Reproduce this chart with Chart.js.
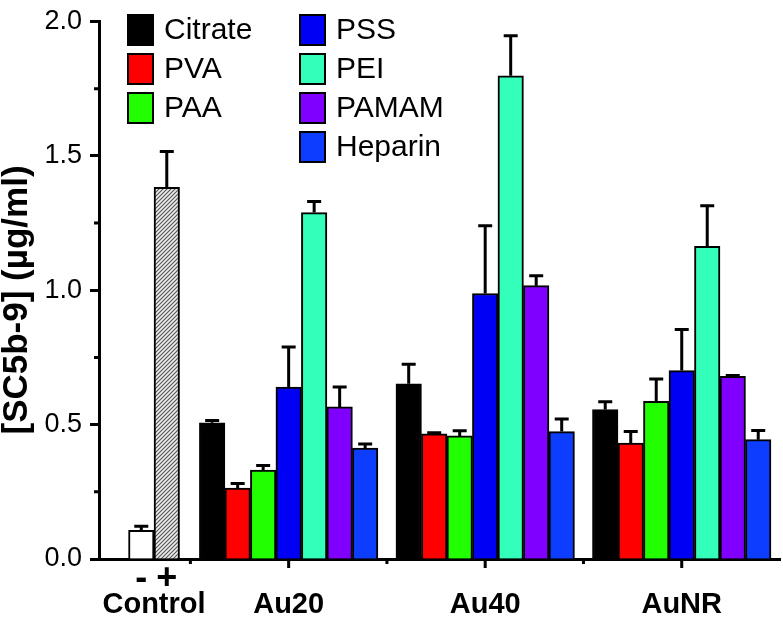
<!DOCTYPE html>
<html>
<head>
<meta charset="utf-8">
<script src="https://cdn.jsdelivr.net/npm/chart.js@4.4.1/dist/chart.umd.min.js"></script>
<style>
  html, body { margin: 0; padding: 0; background: #fff; }
</style>
</head>
<body>
<canvas id="myChart" width="783" height="626"></canvas>
<script>
// groups on the x axis and where they sit on the (linear) x scale
const groups = ['Control', 'Au20', 'Au40', 'AuNR'];
const groupPos = [1.315, 2, 3, 4];
const dividers = [1.5, 2.5, 3.5];
const yTicks = [0, 0.5, 1.0, 1.5, 2.0];
const yMinor = [0.25, 0.75, 1.25, 1.75];

// control bars (- / +)
const controlSigns = ['-', '+'];
const controlVals = [0.107, 1.383];
const controlSd = [0.015, 0.133];

// coatings, values for Au20, Au40, AuNR
const coatings = ['Citrate', 'PVA', 'PAA', 'PSS', 'PEI', 'PAMAM', 'Heparin'];
const coatingColors = ['#000000', '#ff0000', '#22ff00', '#0000f5', '#33ffbb', '#8000ff', '#0d3dff'];

const citrate = [0.507, 0.652, 0.556];
const citrateSd = [0.008, 0.073, 0.029];
const pva = [0.264, 0.466, 0.431];
const pvaSd = [0.017, 0.004, 0.043];
const paa = [0.331, 0.458, 0.587];
const paaSd = [0.017, 0.019, 0.083];
const pss = [0.640, 0.988, 0.701];
const pssSd = [0.149, 0.252, 0.153];
const pei = [1.289, 1.798, 1.163];
const peiSd = [0.041, 0.149, 0.151];
const pamam = [0.566, 1.017, 0.680];
const pamamSd = [0.074, 0.037, 0.003];
const heparin = [0.413, 0.474, 0.444];
const heparinSd = [0.015, 0.047, 0.034];

const coatingMeans = [citrate, pva, paa, pss, pei, pamam, heparin];
const coatingSds = [citrateSd, pvaSd, paaSd, pssSd, peiSd, pamamSd, heparinSd];

const font = 'Liberation Sans, Arial, sans-serif';

// hatched fill for the positive control
function hatch() {
  const s = 4;
  const c = document.createElement('canvas');
  c.width = s; c.height = s;
  const g = c.getContext('2d');
  g.fillStyle = '#ececec';
  g.fillRect(0, 0, s, s);
  g.strokeStyle = '#555555';
  g.lineWidth = 1.1;
  g.beginPath();
  g.moveTo(0, s); g.lineTo(s, 0);
  g.moveTo(-1, 1); g.lineTo(1, -1);
  g.moveTo(s - 1, s + 1); g.lineTo(s + 1, s - 1);
  g.stroke();
  return g.createPattern(c, 'repeat');
}

const datasets = [];
controlVals.forEach((v, k) => {
  datasets.push({
    label: 'Control ' + controlSigns[k],
    isControl: true,
    sign: controlSigns[k],
    data: groupPos.map((x, i) => ({ x: x, y: i === 0 ? v : null })),
    sd: groupPos.map((x, i) => i === 0 ? controlSd[k] : null),
    backgroundColor: k === 0 ? '#ffffff' : hatch(),
  });
});
coatings.forEach((name, k) => {
  datasets.push({
    label: name,
    data: groupPos.map((x, i) => ({ x: x, y: i === 0 ? null : coatingMeans[k][i - 1] })),
    sd: groupPos.map((x, i) => i === 0 ? null : coatingSds[k][i - 1]),
    backgroundColor: coatingColors[k],
  });
});

const errorBars = {
  id: 'errorBars',
  afterDatasetsDraw(chart) {
    const ctx = chart.ctx;
    const y = chart.scales.y;
    ctx.save();
    ctx.strokeStyle = '#000';
    ctx.lineWidth = 3;
    chart.data.datasets.forEach((ds, di) => {
      const meta = chart.getDatasetMeta(di);
      meta.data.forEach((bar, i) => {
        const v = ds.data[i].y, e = ds.sd[i];
        if (v == null || e == null) return;
        const top = y.getPixelForValue(v + e);
        ctx.beginPath();
        ctx.moveTo(bar.x, bar.y);
        ctx.lineTo(bar.x, top);
        ctx.moveTo(bar.x - 7, top);
        ctx.lineTo(bar.x + 7, top);
        ctx.stroke();
      });
    });
    ctx.restore();
  }
};

const axisExtras = {
  id: 'axisExtras',
  afterDraw(chart) {
    const ctx = chart.ctx;
    const { left, bottom } = chart.chartArea;
    const x = chart.scales.x, y = chart.scales.y;
    ctx.save();
    ctx.strokeStyle = '#000';
    ctx.lineWidth = 3;
    ctx.beginPath();
    yMinor.forEach(v => {
      const py = y.getPixelForValue(v);
      ctx.moveTo(left - 5, py);
      ctx.lineTo(left, py);
    });
    groupPos.slice(1).forEach(v => {
      const px = x.getPixelForValue(v);
      ctx.moveTo(px, bottom);
      ctx.lineTo(px, bottom + 9);
    });
    dividers.forEach(v => {
      const px = x.getPixelForValue(v);
      ctx.moveTo(px, bottom);
      ctx.lineTo(px, bottom + 5);
    });
    ctx.stroke();

    // - and + under the control bars
    ctx.fillStyle = '#000';
    ctx.font = 'bold 36px ' + font;
    ctx.textAlign = 'center';
    ctx.textBaseline = 'middle';
    chart.data.datasets.forEach((ds, di) => {
      if (!ds.isControl) return;
      const bar = chart.getDatasetMeta(di).data[0];
      ctx.fillText(ds.sign, bar.x, bottom + 20);
    });
    ctx.restore();
  }
};

const legendBox = {
  id: 'legendBox',
  afterDraw(chart) {
    const ctx = chart.ctx;
    const items = chart.data.datasets.filter(ds => !ds.isControl);
    ctx.save();
    ctx.font = '30px ' + font;
    ctx.textBaseline = 'middle';
    ctx.textAlign = 'left';
    items.forEach((ds, i) => {
      const col = i < 3 ? 0 : 1;
      const row = col ? i - 3 : i;
      const bx = col ? 300 : 128;
      const by = 15 + row * 39;
      ctx.fillStyle = ds.backgroundColor;
      ctx.fillRect(bx, by, 25, 30);
      ctx.lineWidth = 2;
      ctx.strokeStyle = '#000';
      ctx.strokeRect(bx, by, 25, 30);
      ctx.fillStyle = '#000';
      ctx.fillText(ds.label, bx + 36, by + 16);
    });
    ctx.restore();
  }
};

const ctx = document.getElementById('myChart').getContext('2d');
const myChart = new Chart(ctx, {
  type: 'bar',
  data: { datasets: datasets },
  options: {
    responsive: false,
    animation: false,
    devicePixelRatio: 1,
    layout: { padding: { top: 16, right: 3, left: 0, bottom: 0 } },
    datasets: {
      bar: {
        skipNull: true,
        barThickness: 25.5,
        borderColor: '#000',
        borderWidth: 2,
      }
    },
    plugins: {
      legend: { display: false },
      tooltip: { enabled: false },
    },
    scales: {
      x: {
        type: 'linear',
        offset: false,
        min: 1.035,
        max: 4.5,
        afterFit: (s) => { s.height = 67; },
        afterBuildTicks: (s) => { s.ticks = groupPos.map(v => ({ value: v })); },
        grid: { display: true, drawOnChartArea: false, drawTicks: false },
        border: { display: true, color: '#000', width: 3 },
        ticks: {
          padding: 31,
          color: '#000',
          font: { family: font, size: 29, weight: 'bold', lineHeight: 1 },
          maxRotation: 0,
          autoSkip: false,
          callback: (v) => {
            const i = groupPos.indexOf(v);
            return i >= 0 ? groups[i] : '';
          }
        }
      },
      y: {
        min: 0,
        max: 2,
        afterFit: (s) => { s.width = 99; },
        afterBuildTicks: (s) => { s.ticks = yTicks.map(v => ({ value: v })); },
        grid: { drawOnChartArea: false, drawTicks: true, tickLength: 9, tickWidth: 3, tickColor: '#000' },
        border: { display: true, color: '#000', width: 3 },
        ticks: {
          padding: 8,
          color: '#000',
          font: { family: font, size: 27, lineHeight: 1 },
          callback: (v) => v.toFixed(1)
        },
        title: {
          display: true,
          text: '[SC5b-9] (\u00b5g/ml)  ',
          color: '#000',
          padding: 0,
          font: { family: font, size: 35, weight: 'bold', lineHeight: 1 }
        }
      }
    }
  },
  plugins: [errorBars, axisExtras, legendBox]
});
</script>
</body>
</html>
